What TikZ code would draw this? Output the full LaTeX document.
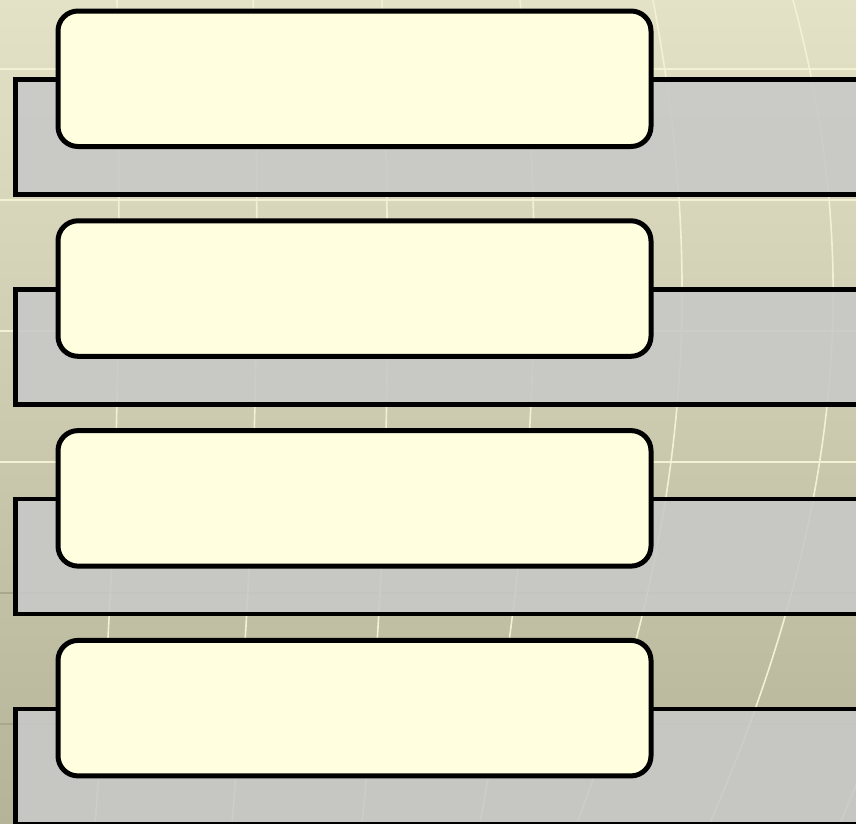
\documentclass[tikz,border=0pt]{standalone}
\usepackage{tikz}
\usetikzlibrary{arrows.meta}

\definecolor{bgtop}{HTML}{E3E2C6}
\definecolor{bgbot}{HTML}{B5B499}
\definecolor{bandgray}{HTML}{C8C9C7}
\definecolor{noteyellow}{HTML}{FFFFDF}
\definecolor{glowline}{HTML}{F3F1D3}
\definecolor{darkline}{HTML}{A9A88D}

\tikzset{
  bandbox/.style={draw=black, line width=4.5pt, fill=bandgray, fill opacity=0.9,
    draw opacity=1, anchor=north west, inner sep=0pt, outer sep=0pt,
    minimum width=900pt, minimum height=115pt},
  notebox/.style={draw=black, line width=5pt, fill=noteyellow, rounded corners=20pt,
    anchor=north west, inner sep=0pt, outer sep=0pt,
    minimum width=593pt, minimum height=135.5pt},
  gridline/.style={glowline, line width=2.5pt},
  meridian/.style={glowline, line width=1.6pt}
}

\begin{document}
\begin{tikzpicture}[x=1pt, y=-1pt]
      % Поле рисунка
      \useasboundingbox (0,0) rectangle (856,823);
      \clip (0,0) rectangle (856,823);

      % Фон
      \shade[top color=bgtop, bottom color=bgbot] (0,0) rectangle (856,823);

      % Горизонтальные линии фона
      \foreach \yy in {69, 200, 331, 462}
        \draw[gridline] (0,\yy) -- (856,\yy);
      \foreach \yy in {593, 724}
        \draw[darkline, line width=1.6pt] (0,\yy) -- (856,\yy);

      % Меридианы
      \draw[meridian] (117,0) .. controls (122,300) and (118,550) .. (95,823);
      \draw[meridian] (253,0) .. controls (262,300) and (255,550) .. (232,823);
      \draw[meridian] (382,0) .. controls (392,300) and (390,550) .. (362,823);
      \draw[meridian] (520,0) .. controls (545,250) and (540,500) .. (480,823);
      \draw[meridian] (653,0) .. controls (700,250) and (700,500) .. (577,823);
      \draw[meridian] (793,0) .. controls (860,250) and (850,500) .. (710,823);
      \draw[meridian] (930,0) .. controls (990,300) and (960,550) .. (840,823);

      % Полосы и блоки
      \foreach \i in {1,...,4} {
        \pgfmathsetmacro{\dy}{(\i-1)*209.8}
        \node[bandbox] (band\i) at (15.5, 79.5+\dy) {};
        \node[notebox] (box\i) at (58, 11+\dy) {};
      }

      \end{tikzpicture}
\end{document}
